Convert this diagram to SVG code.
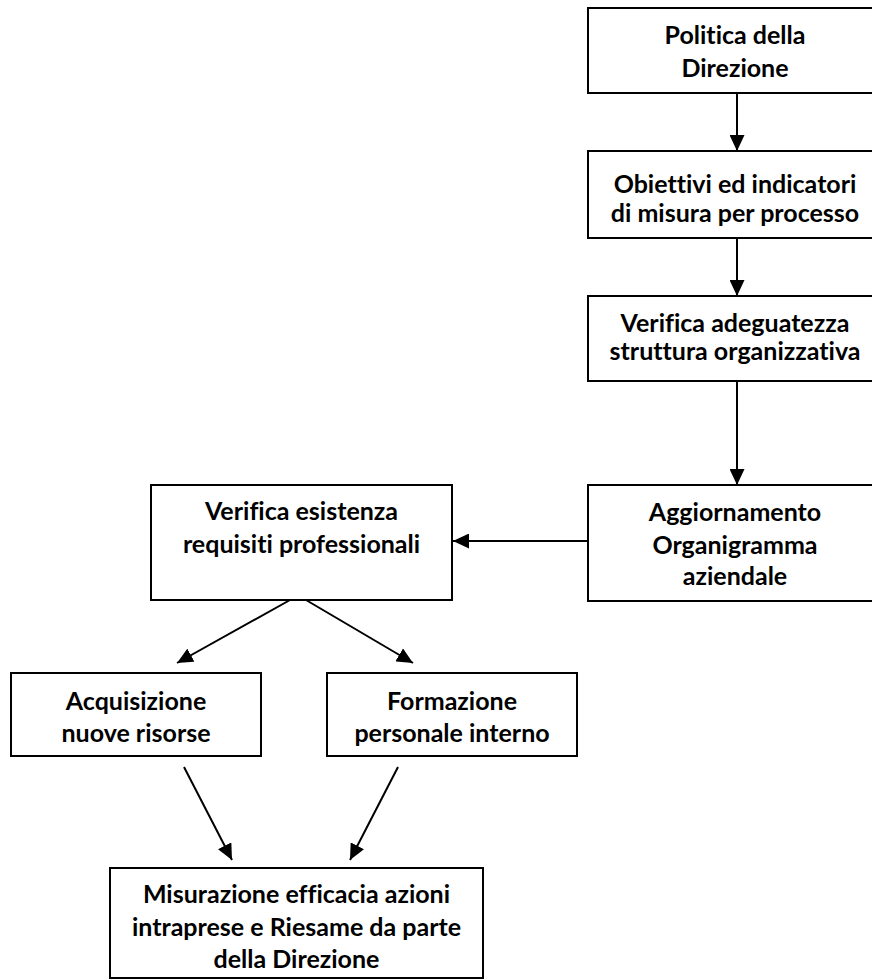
<svg xmlns="http://www.w3.org/2000/svg" width="872" height="980" viewBox="0 0 872 980">
<style>
.box{fill:#fff;stroke:#000;stroke-width:2}
.t{font-family:Lato,"Open Sans","Liberation Sans",sans-serif;font-weight:bold;font-size:25px;fill:#000;text-anchor:middle;font-variant-ligatures:none}
.c{stroke:#000;stroke-width:2;fill:none;marker-end:url(#ah)}
</style>
<defs>
<marker id="ah" markerUnits="userSpaceOnUse" markerWidth="16" markerHeight="15" refX="16" refY="7.5" orient="auto">
<path d="M0,0 L16,7.5 L0,15 z" fill="#000"/>
</marker>
</defs>
<rect width="872" height="980" fill="#fff"/>
<g id="connectors">
<line class="c" x1="737" y1="93" x2="737" y2="151"/>
<line class="c" x1="737" y1="238" x2="737" y2="296"/>
<line class="c" x1="737" y1="381" x2="737" y2="485"/>
<line class="c" x1="588" y1="541" x2="453" y2="541"/>
<line class="c" x1="290" y1="600" x2="177" y2="663"/>
<line class="c" x1="306" y1="600" x2="413" y2="663"/>
<line class="c" x1="184" y1="767" x2="232" y2="860"/>
<line class="c" x1="398" y1="767" x2="350" y2="860"/>
</g>
<g id="n1">
<rect class="box" x="588" y="8" width="296" height="85"/>
<text class="t" x="735" y="44">Politica della</text>
<text class="t" x="735" y="77">Direzione</text>
</g>
<g id="n2">
<rect class="box" x="588" y="151" width="296" height="87"/>
<text class="t" x="735" y="193">Obiettivi ed indicatori</text>
<text class="t" x="735" y="222">di misura per processo</text>
</g>
<g id="n3">
<rect class="box" x="588" y="296" width="296" height="85"/>
<text class="t" x="735" y="332">Verifica adeguatezza</text>
<text class="t" x="735" y="360">struttura organizzativa</text>
</g>
<g id="n4">
<rect class="box" x="588" y="485" width="296" height="116"/>
<text class="t" x="735" y="521">Aggiornamento</text>
<text class="t" x="735" y="554">Organigramma</text>
<text class="t" x="735" y="585">aziendale</text>
</g>
<g id="n5">
<rect class="box" x="151" y="485" width="301" height="115"/>
<text class="t" x="301.5" y="520">Verifica esistenza</text>
<text class="t" x="301.5" y="553">requisiti professionali</text>
</g>
<g id="n6">
<rect class="box" x="11" y="673" width="250" height="83"/>
<text class="t" x="136" y="710">Acquisizione</text>
<text class="t" x="136" y="742">nuove risorse</text>
</g>
<g id="n7">
<rect class="box" x="327" y="673" width="250" height="83"/>
<text class="t" x="452" y="710">Formazione</text>
<text class="t" x="452" y="742">personale interno</text>
</g>
<g id="n8">
<rect class="box" x="110" y="868" width="373" height="110"/>
<text class="t" x="296.5" y="903">Misurazione efficacia azioni</text>
<text class="t" x="296.5" y="936">intraprese e Riesame da parte</text>
<text class="t" x="296.5" y="968">della Direzione</text>
</g>
</svg>
